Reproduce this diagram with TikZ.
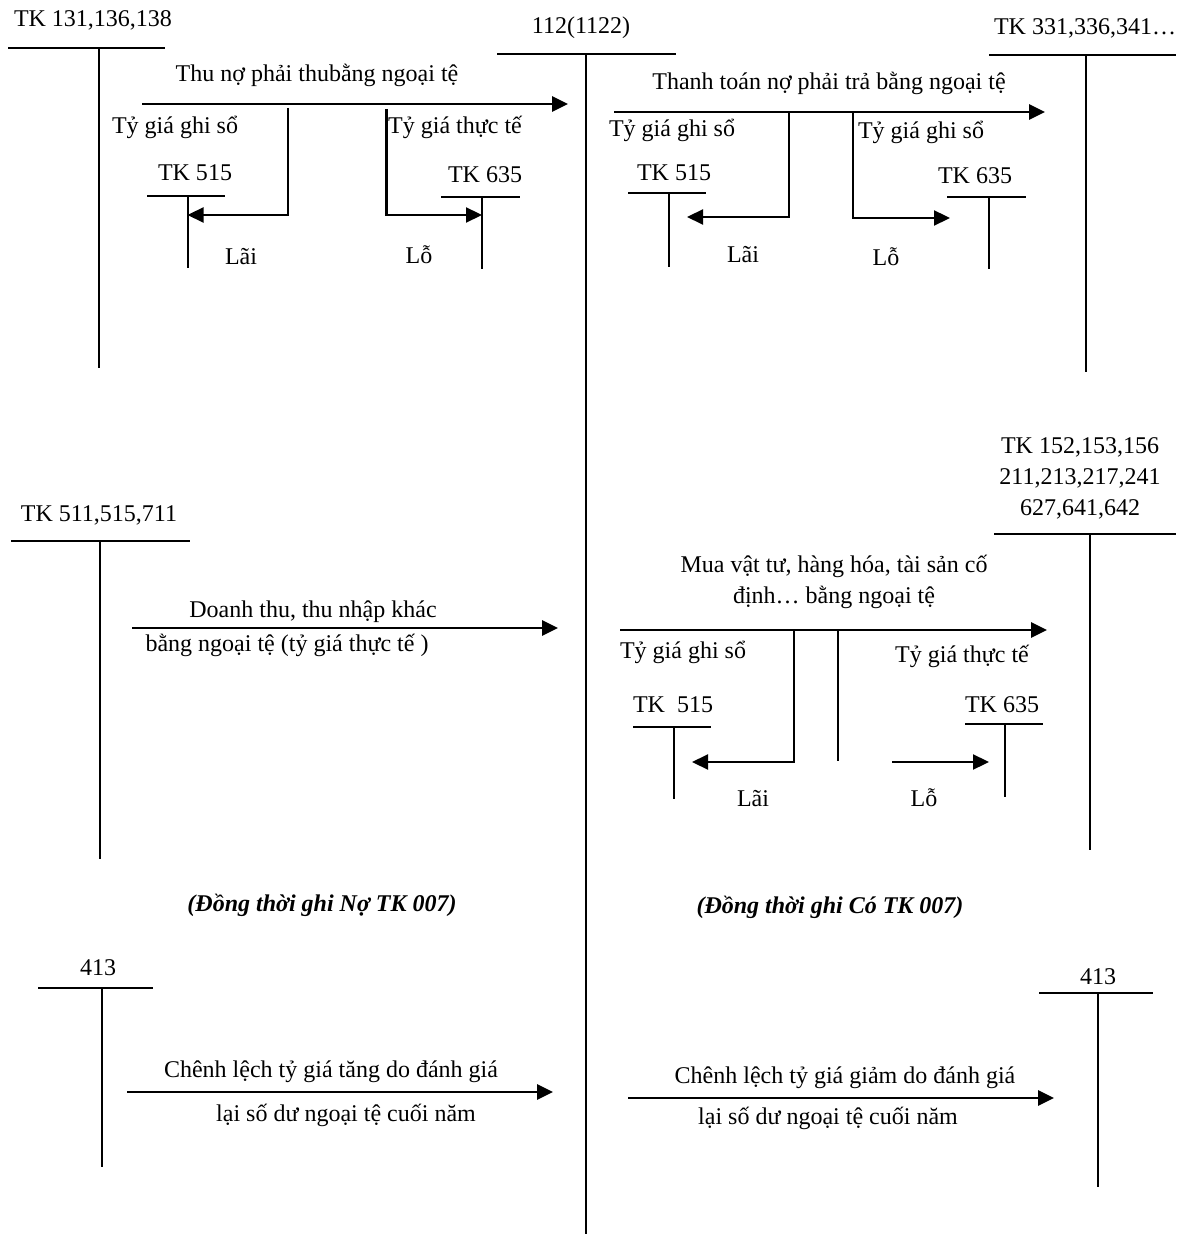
\documentclass[tikz,border=0pt]{standalone}
\usepackage{fontspec}
\setmainfont{Liberation Serif}
\usetikzlibrary{arrows.meta, positioning}

\begin{document}
\begin{tikzpicture}[x=0.5pt, y=-0.5pt,
  font=\fontsize{12}{15.5}\selectfont,
  acct/.style={line width=1pt},
  flow/.style={-{Triangle[length=8pt, width=7.5pt]}, line width=1.4pt},
  branch/.style={-{Triangle[length=8pt, width=7.5pt]}, line width=1.1pt},
  lab/.style={inner sep=0pt, align=center},
  note/.style={inner sep=0pt, font=\fontsize{12}{15.5}\selectfont\bfseries\itshape},
]
  \useasboundingbox (0,0) rectangle (1176,1234);

  % T-accounts (title, bar, stem)
  \node[lab] (tk131) at (93,20) {TK 131,136,138};
  \draw[acct] (8,48) -- (165,48) (99,48) -- (99,368);
  \node[lab] (tk112) at (581,28) {112(1122)};
  \draw[acct] (497,54) -- (676,54) (586,54) -- (586,1234);
  \node[lab] (tk331) at (1085,28) {TK 331,336,341…};
  \draw[acct] (989,55) -- (1176,55) (1086,55) -- (1086,372);

  \node[lab] (tk515a) at (195,173) {TK 515};
  \draw[acct] (147,196) -- (225,196) (187.5,196) -- (187.5,268);
  \node[lab] (tk635a) at (485,175) {TK 635};
  \draw[acct] (441,197) -- (520,197) (482,197) -- (482,269);
  \node[lab] (tk515b) at (674,173) {TK 515};
  \draw[acct] (628,193) -- (706,193) (669,193) -- (669,267);
  \node[lab] (tk635b) at (975,176) {TK 635};
  \draw[acct] (947,197) -- (1026,197) (989,197) -- (989,269);

  \node[lab] (tk511) at (99,515) {TK 511,515,711};
  \draw[acct] (11,541) -- (190,541) (100,541) -- (100,859);
  \node[lab] (tk152) at (1080,478) {TK 152,153,156\\211,213,217,241\\627,641,642};
  \draw[acct] (994,534) -- (1176,534) (1090,534) -- (1090,850);
  \node[lab] (tk515c) at (673,705) {TK\ \ 515};
  \draw[acct] (633,727) -- (711,727) (674,727) -- (674,799);
  \node[lab] (tk635c) at (1002,705) {TK 635};
  \draw[acct] (965,724) -- (1043,724) (1005,724) -- (1005,797);

  \node[lab] (tk413a) at (98,968) {413};
  \draw[acct] (38,988) -- (153,988) (102,988) -- (102,1167);
  \node[lab] (tk413b) at (1098,977) {413};
  \draw[acct] (1039,993) -- (1153,993) (1098,993) -- (1098,1187);

  % thu no phai thu
  \coordinate (a1s) at (142,104); \coordinate (a1e) at (568,104);
  \coordinate (b1s) at (288,108); \coordinate (b1e) at (187.5,215);
  \coordinate (b2s) at (386.5,109); \coordinate (b2e) at (482,215);
  \draw[flow] (a1s) -- (a1e);
  \draw[branch] (b1s) |- (b1e);
  \draw[branch] (b2s) |- (b2e);
  \node[lab] (t1) at (317,75) {Thu nợ phải thubằng ngoại tệ};
  \node[lab] (r1) at (175,127) {Tỷ giá ghi sổ};
  \node[lab] (r2) at (455,127) {Tỷ giá thực tế};
  \node[lab] (lai1) at (241,257) {Lãi};
  \node[lab] (lo1) at (419,255) {Lỗ};

  % thanh toan no phai tra
  \coordinate (a2s) at (614,112); \coordinate (a2e) at (1045,112);
  \coordinate (b3s) at (789,112); \coordinate (b3e) at (687,217);
  \coordinate (b4s) at (853,112); \coordinate (b4e) at (950,218);
  \draw[flow] (a2s) -- (a2e);
  \draw[branch] (b3s) |- (b3e);
  \draw[branch] (b4s) |- (b4e);
  \node[lab] (t2) at (829,83) {Thanh toán nợ phải trả bằng ngoại tệ};
  \node[lab] (r3) at (672,130) {Tỷ giá ghi sổ};
  \node[lab] (r4) at (921,132) {Tỷ giá ghi sổ};
  \node[lab] (lai2) at (743,255) {Lãi};
  \node[lab] (lo2) at (886,257) {Lỗ};

  % doanh thu
  \coordinate (a3s) at (132,628); \coordinate (a3e) at (558,628);
  \draw[flow] (a3s) -- (a3e);
  \node[lab] (t3) at (313,612) {Doanh thu, thu nhập khác};
  \node[lab] (t3b) at (287,645) {bằng ngoại tệ (tỷ giá thực tế )};

  % mua vat tu
  \coordinate (a4s) at (620,630); \coordinate (a4e) at (1047,630);
  \coordinate (b5s) at (794,630); \coordinate (b5e) at (692,762);
  \coordinate (b6s) at (838,630); \coordinate (b6e) at (838,761);
  \coordinate (b7s) at (892,762); \coordinate (b7e) at (989,762);
  \draw[flow] (a4s) -- (a4e);
  \draw[branch] (b5s) |- (b5e);
  \draw[acct] (b6s) -- (b6e);
  \draw[branch] (b7s) -- (b7e);
  \node[lab] (t4) at (834,582) {Mua vật tư, hàng hóa, tài sản cố\\định… bằng ngoại tệ};
  \node[lab] (r5) at (683,652) {Tỷ giá ghi sổ};
  \node[lab] (r6) at (962,656) {Tỷ giá thực tế};
  \node[lab] (lai3) at (753,799) {Lãi};
  \node[lab] (lo3) at (924,798) {Lỗ};

  \node[note] (n1) at (322,905) {(Đồng thời ghi Nợ TK 007)};
  \node[note] (n2) at (830,907) {(Đồng thời ghi Có TK 007)};

  % chenh lech ty gia
  \coordinate (a5s) at (127,1092); \coordinate (a5e) at (553,1092);
  \draw[flow] (a5s) -- (a5e);
  \node[lab] (t5) at (331,1072) {Chênh lệch tỷ giá tăng do đánh giá};
  \node[lab] (t5b) at (346,1115) {lại số dư ngoại tệ cuối năm};
  \coordinate (a6s) at (628,1098); \coordinate (a6e) at (1054,1098);
  \draw[flow] (a6s) -- (a6e);
  \node[lab] (t6) at (845,1078) {Chênh lệch tỷ giá giảm do đánh giá};
  \node[lab] (t6b) at (828,1118) {lại số dư ngoại tệ cuối năm};
\end{tikzpicture}
\end{document}
